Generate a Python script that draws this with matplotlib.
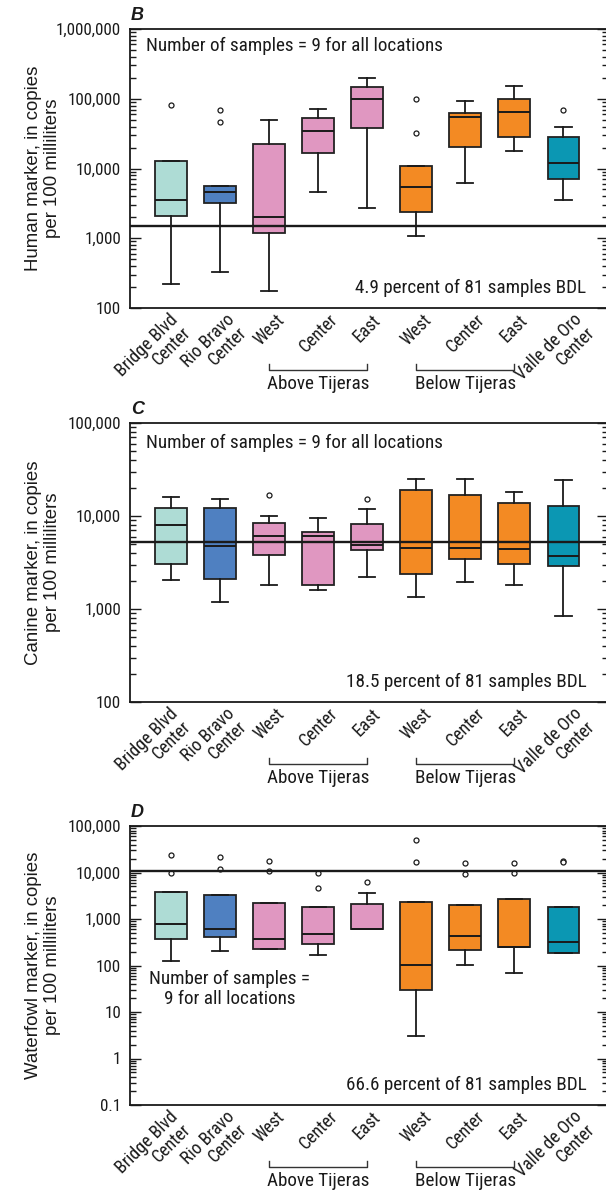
import matplotlib
matplotlib.use('Agg')
import matplotlib.pyplot as plt
import matplotlib.transforms as mtransforms
from matplotlib import font_manager as fm
from matplotlib.ticker import LogLocator, FuncFormatter, NullFormatter

# sites along the river, upstream to downstream
sites = ['Bridge Blvd\nCenter', 'Rio Bravo\nCenter', 'West', 'Center', 'East',
         'West', 'Center', 'East', 'Valle de Oro\nCenter']
box_colors = ['#aedcd5', '#4f80c1', '#e097c1', '#e097c1', '#e097c1',
              '#f38a23', '#f38a23', '#f38a23', '#0b97b3']
groups = [('Above Tijeras', 3, 5), ('Below Tijeras', 6, 8)]

# B - human marker
human_lo = [223, 332, 173, 4550, 2690, 1090, 6130, 18000, 3500]
human_q1 = [2085, 3240, 1200, 16900, 38100, 2400, 20100, 28300, 7070]
human_med = [3500, 4550, 2000, 34100, 100000, 5430, 54200, 63800, 12000]
human_q3 = [12900, 5600, 22700, 53000, 149000, 11000, 61800, 99100, 28000]
human_hi = [12900, 5600, 50000, 70500, 200000, 11000, 91800, 150600, 39800]
human_out = [[81000], [68200, 46900], [], [], [], [99000, 31900], [], [], [69700]]
human_ref = 1480

# C - canine marker
canine_lo = [2060, 1190, 1820, 1610, 2220, 1330, 1930, 1790, 838]
canine_q1 = [3080, 2090, 3820, 1800, 4290, 2350, 3490, 3010, 2890]
canine_med = [8020, 4770, 6060, 6110, 4930, 4580, 4580, 4400, 3700]
canine_q3 = [12100, 12100, 8500, 6690, 8160, 19100, 17000, 13900, 12900]
canine_hi = [16000, 15100, 10000, 9540, 12000, 25000, 25000, 18000, 24200]
canine_out = [[], [], [17000], [], [15100], [], [], [], []]
canine_ref = 5190

# D - waterfowl marker
fowl_lo = [125, 205, 230, 168, 600, 3.1, 103, 70, 186]
fowl_q1 = [378, 417, 230, 290, 600, 29.7, 219, 250, 186]
fowl_med = [780, 600, 378, 468, 600, 103, 431, 250, 315]
fowl_q3 = [3740, 3340, 2170, 1780, 2100, 2360, 2030, 2740, 1840]
fowl_hi = [3740, 3340, 2170, 1780, 3560, 2360, 2030, 2740, 1840]
fowl_out = [[24200, 9600], [21900, 11900], [17900, 10900], [9920, 4570], [6350],
            [50800, 16800], [16000, 9290], [16000, 9920], [18000, 16800]]
fowl_ref = 10950


# pick a condensed face if one is installed, otherwise Roboto
def pick_narrow():
    order = ['Liberation Sans Narrow', 'Roboto Condensed', 'Open Sans Condensed',
             'Noto Sans Condensed', 'DejaVu Sans Condensed', 'DejaVu Sans']
    found = []
    for f in fm.fontManager.ttflist:
        cond = ('Narrow' in f.name or 'Condensed' in f.name
                or str(f.stretch) in ('condensed', 'semi-condensed'))
        if cond and f.style == 'normal' and f.weight in (400, 'normal', 'regular'):
            found.append(f)
    found.sort(key=lambda f: order.index(f.name) if f.name in order else 99)
    if found:
        return fm.FontProperties(fname=found[0].fname)
    return fm.FontProperties(family=['Roboto', 'DejaVu Sans'])


narrow = pick_narrow()
wide = fm.FontProperties(family=['Liberation Sans', 'DejaVu Sans'])
ink = '#1a1a1a'

W, H = 606, 1190
fig = plt.figure(figsize=(W / 100, H / 100), dpi=100)
renderer = fig.canvas.get_renderer()


def fit_size(s, target_px, fp, base=14.0):
    t = fig.text(0, 0, s, fontproperties=fp, fontsize=base)
    w = t.get_window_extent(renderer).width
    t.remove()
    return base * target_px / w


tick_fs = min(14, fit_size('1,000,000', 65, narrow))
note_fs = min(14.5, fit_size('Number of samples = 9 for all locations', 300, narrow))
ylab_fs = min(14, fit_size('Human marker, in copies', 208, wide))

panels = [
    dict(letter='B', top=29, ylim=(100, 1e6),
         ylabel='Human marker, in copies\nper 100 milliliters',
         stats=(human_lo, human_q1, human_med, human_q3, human_hi, human_out), ref=human_ref,
         note='Number of samples = 9 for all locations', note_xy=(0.035, 0.939), note_ha='left',
         bdl='4.9 percent of 81 samples BDL'),
    dict(letter='C', top=423, ylim=(100, 1e5),
         ylabel='Canine marker, in copies\nper 100 milliliters',
         stats=(canine_lo, canine_q1, canine_med, canine_q3, canine_hi, canine_out), ref=canine_ref,
         note='Number of samples = 9 for all locations', note_xy=(0.035, 0.928), note_ha='left',
         bdl='18.5 percent of 81 samples BDL'),
    dict(letter='D', top=826, ylim=(0.1, 1e5),
         ylabel='Waterfowl marker, in copies\nper 100 milliliters',
         stats=(fowl_lo, fowl_q1, fowl_med, fowl_q3, fowl_hi, fowl_out), ref=fowl_ref,
         note='Number of samples =\n9 for all locations', note_xy=(0.21, 0.416), note_ha='center',
         bdl='66.6 percent of 81 samples BDL'),
]

left_px, right_px, h_px = 129.5, 607.5, 279
label_dx = [-18, -6, 0, 0, 0, 0, 0, 0, -8]


def fmt(v, pos):
    if v >= 1:
        return '{:,}'.format(int(round(v)))
    return '{:g}'.format(v)


for p in panels:
    ax = fig.add_axes([left_px / W, 1 - (p['top'] + h_px) / H,
                       (right_px - left_px) / W, h_px / H])
    lo, q1, med, q3, hi, out = p['stats']
    stats = []
    for i in range(len(sites)):
        stats.append(dict(whislo=lo[i], q1=q1[i], med=med[i], q3=q3[i],
                          whishi=hi[i], fliers=out[i]))
    bp = ax.bxp(stats, positions=range(1, 10), widths=0.65, capwidths=0.33,
                patch_artist=True,
                boxprops=dict(edgecolor='#222222', linewidth=1.3),
                medianprops=dict(color=ink, linewidth=1.4),
                whiskerprops=dict(color=ink, linewidth=1.3),
                capprops=dict(color=ink, linewidth=1.3),
                flierprops=dict(marker='o', markersize=3.6, markerfacecolor='white',
                                markeredgecolor=ink, markeredgewidth=0.9))
    for patch, c in zip(bp['boxes'], box_colors):
        patch.set_facecolor(c)

    ax.axhline(p['ref'], color=ink, linewidth=1.7, zorder=5)

    ax.set_yscale('log')
    ax.set_ylim(*p['ylim'])
    ax.set_xlim(0.153, 9.898)
    ax.yaxis.set_major_locator(LogLocator(base=10, numticks=20))
    ax.yaxis.set_minor_locator(LogLocator(base=10, subs=range(2, 10), numticks=20))
    ax.yaxis.set_major_formatter(FuncFormatter(fmt))
    ax.yaxis.set_minor_formatter(NullFormatter())
    ax.tick_params(axis='y', which='both', direction='in', left=True, right=True,
                   color=ink, width=1.0)
    ax.tick_params(axis='y', which='major', length=8, pad=6)
    ax.tick_params(axis='y', which='minor', length=4.5)
    ax.tick_params(axis='x', which='both', length=0, pad=2)
    for lab in ax.get_yticklabels():
        lab.set_fontproperties(narrow)
        lab.set_fontsize(tick_fs)
        lab.set_color(ink)

    ax.set_xticks(range(1, 10))
    ax.set_xticklabels(sites, rotation=45, ha='center', va='top',
                       multialignment='right', fontproperties=narrow)
    for lab, dx in zip(ax.get_xticklabels(), label_dx):
        lab.set_fontsize(note_fs * 0.93)
        lab.set_color(ink)
        lab.set_linespacing(1.0)
        lab.set_transform(lab.get_transform() +
                          mtransforms.ScaledTranslation(dx / 100, 0, fig.dpi_scale_trans))

    for s in ax.spines.values():
        s.set_linewidth(1.3)
        s.set_color(ink)

    # group brackets under the tick labels
    xt = ax.get_xaxis_transform()
    y0 = -62 / h_px
    hb = 6 / h_px
    for name, a, b in groups:
        ax.plot([a, a, b, b], [y0 + hb, y0, y0, y0 + hb], transform=xt,
                clip_on=False, color='#333333', linewidth=1.0)
        ax.text((a + b) / 2, -76 / h_px, name, transform=xt, ha='center',
                va='center', fontproperties=narrow, fontsize=note_fs, color=ink)

    ax.text(p['note_xy'][0], p['note_xy'][1], p['note'], transform=ax.transAxes,
            ha=p['note_ha'], va='center', multialignment='center',
            fontproperties=narrow, fontsize=note_fs, color=ink)
    ax.text(0.956, 0.072, p['bdl'], transform=ax.transAxes, ha='right',
            va='center', fontproperties=narrow, fontsize=note_fs, color=ink)
    ax.text(0.003, 1 + 9 / h_px, p['letter'], transform=ax.transAxes,
            ha='left', va='baseline', fontsize=13, fontweight='bold',
            fontstyle='italic', family=['Liberation Sans', 'DejaVu Sans'], color=ink)

    fig.text(43 / W, 1 - (p['top'] + h_px / 2) / H, p['ylabel'], rotation=90,
             ha='center', va='center', multialignment='center',
             fontproperties=wide, fontsize=ylab_fs, color=ink)

fig.savefig('out.png', dpi=100)
